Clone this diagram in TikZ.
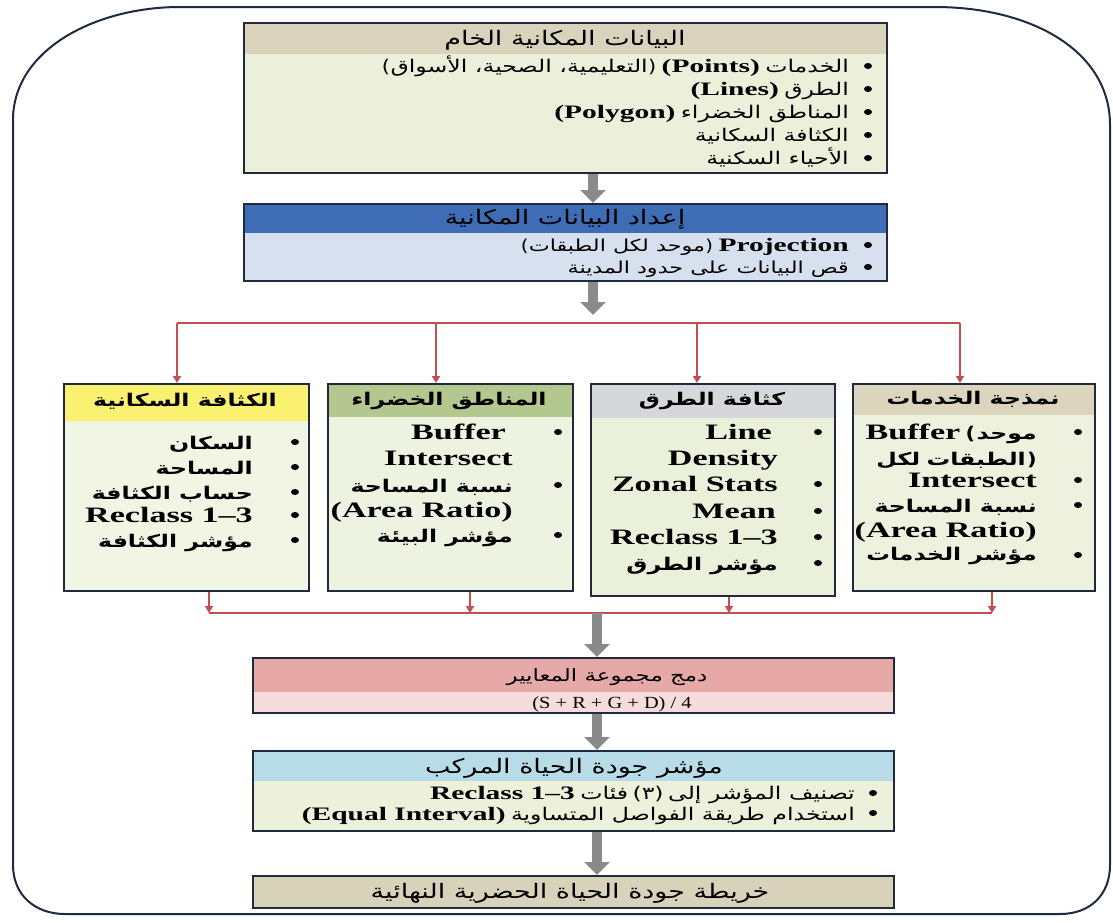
\documentclass[tikz,border=0pt]{standalone}
\usepackage{fontspec}
\setmainfont{Liberation Serif}
\newfontfamily\arabicfont[Script=Arabic,FakeStretch=1.35]{DejaVu Sans}
\newfontfamily\parfont[FakeStretch=1.2]{DejaVu Sans}
\newfontfamily\latfont[FakeStretch=1.55]{Liberation Serif}
\newfontfamily\formfont[FakeStretch=1.2]{Liberation Serif}
\TeXXeTstate=1
\usetikzlibrary{arrows.meta}
\definecolor{frame}{HTML}{1F2B3D}
\definecolor{agray}{HTML}{8A8A8A}
\definecolor{redln}{HTML}{C0504D}
\definecolor{hdrA}{HTML}{D9D3BD}
\definecolor{bodyA}{HTML}{ECF0DA}
\definecolor{hdrB}{HTML}{3E6DB5}
\definecolor{bodyB}{HTML}{D7E0EE}
\definecolor{hdrY}{HTML}{FBF171}
\definecolor{bodyY}{HTML}{F2F4E4}
\definecolor{hdrG}{HTML}{B4C78E}
\definecolor{bodyG}{HTML}{EEF2E0}
\definecolor{hdrR}{HTML}{D5D7DB}
\definecolor{bodyR}{HTML}{EAF0DA}
\definecolor{hdrS}{HTML}{DCD4BC}
\definecolor{bodyS}{HTML}{EEF1DE}
\definecolor{hdrC}{HTML}{E6A9A8}
\definecolor{bodyC}{HTML}{F6DCDC}
\definecolor{hdrQ}{HTML}{B7DCE8}
\definecolor{bodyQ}{HTML}{EDF0DA}
\definecolor{hdrF}{HTML}{D9D2BA}
\newcommand\AR[1]{{\arabicfont\beginR #1\endR}}
\newcommand\PR[1]{{\parfont #1}}
\begin{document}
\begin{tikzpicture}[x=1pt,y=-1pt,
  box/.style={draw=frame, line width=2.2pt, inner sep=0pt, anchor=north west},
  hdr/.style 2 args={path picture={\fill[#1] (path picture bounding box.north west) rectangle ([yshift=-#2pt]path picture bounding box.north east);}},
  htxt/.style={inner sep=0pt, anchor=base, font=\arabicfont\fontsize{20}{24}\selectfont},
  ctxt/.style={inner sep=0pt, anchor=base, font=\arabicfont\bfseries\fontsize{17.5}{21}\selectfont},
  ln/.style={inner sep=0pt, anchor=base east, font=\arabicfont\fontsize{17.5}{20}\selectfont},
  pln/.style={inner sep=0pt, anchor=base east, font=\arabicfont\fontsize{16.5}{19}\selectfont},
  lat/.style={inner sep=0pt, anchor=base east, font=\latfont\bfseries\fontsize{19}{23}\selectfont},
  cln/.style={inner sep=0pt, anchor=base east, font=\arabicfont\bfseries\fontsize{17.5}{21}\selectfont},
  clat/.style={inner sep=0pt, anchor=base east, font=\latfont\bfseries\fontsize{22}{26}\selectfont},
  fat/.style={draw=agray, line width=10pt, -{Triangle[width=25pt,length=13pt]}},
  redl/.style={draw=redln, line width=1.8pt},
  reda/.style={draw=redln, line width=1.8pt, -{Triangle[width=8pt,length=7pt]}},
  bul/.style={fill=black}
]
\useasboundingbox (0,0) rectangle (1113,922);
% outer frame
\draw[draw=frame, line width=2pt] (13,120) .. controls (13,50) and (95,7) .. (180,7) -- (935,7)
  .. controls (1030,7) and (1110,50) .. (1110,125) -- (1110,865)
  .. controls (1110,895) and (1090,914) .. (1060,914) -- (65,914)
  .. controls (35,914) and (13,895) .. (13,865) -- cycle;

% ---------- raw data box
\node[box, minimum width=643pt, minimum height=150pt, fill=bodyA, hdr={hdrA}{31}] (raw) at (243,22) {};
\node[htxt] (rawh) at (565,45) {\AR{البيانات المكانية الخام}};
\node[ln] (raw1a) at (849,72) {\AR{الخدمات}};
\node[lat] (raw1b) at ([xshift=-5pt]raw1a.base west) {(Points)};
\node[ln] (raw1c) at ([xshift=-5pt]raw1b.base west) {\PR{)}};
\node[ln] (raw1d) at (raw1c.base west) {\AR{التعليمية، الصحية، الأسواق}};
\node[ln] (raw1e) at (raw1d.base west) {\PR{(}};
\node[ln] (raw2a) at (849,95) {\AR{الطرق}};
\node[lat] (raw2b) at ([xshift=-5pt]raw2a.base west) {(Lines)};
\node[ln] (raw3a) at (849,118) {\AR{المناطق الخضراء}};
\node[lat] (raw3b) at ([xshift=-5pt]raw3a.base west) {(Polygon)};
\node[ln] (raw4) at (849,141) {\AR{الكثافة السكانية}};
\node[ln] (raw5) at (849,164) {\AR{الأحياء السكنية}};
\foreach \y in {66,89,112,135,158} \fill[bul] (868,\y) ellipse (4pt and 3pt);

% ---------- preparation box
\node[box, minimum width=643pt, minimum height=77pt, fill=bodyB, hdr={hdrB}{29}] (prep) at (243,203) {};
\node[htxt] (preph) at (565,224) {\AR{إعداد البيانات المكانية}};
\node[lat] (prep1a) at (849,251) {Projection};
\node[pln] (prep1b) at ([xshift=-5pt]prep1a.base west) {\PR{)}};
\node[pln] (prep1c) at (prep1b.base west) {\AR{موحد لكل الطبقات}};
\node[pln] (prep1d) at (prep1c.base west) {\PR{(}};
\node[pln] (prep2) at (849,273) {\AR{قص البيانات على حدود المدينة}};
\foreach \y in {245,267} \fill[bul] (868,\y) ellipse (4pt and 3pt);

\coordinate (ax) at (593,0);
\coordinate (split) at (593,315);
\draw[fat] (raw.south -| ax) -- (prep.north -| ax);
\draw[fat] (prep.south -| ax) -- (split);

% ---------- four criteria boxes
\node[box, minimum width=245pt, minimum height=207pt, fill=bodyY, hdr={hdrY}{37}] (pop) at (63,383) {};
\node[box, minimum width=245pt, minimum height=207pt, fill=bodyG, hdr={hdrG}{33}] (green) at (327,383) {};
\node[box, minimum width=244pt, minimum height=212pt, fill=bodyR, hdr={hdrR}{34}] (road) at (590,383) {};
\node[box, minimum width=242pt, minimum height=207pt, fill=bodyS, hdr={hdrS}{31}] (serv) at (852,383) {};

\node[ctxt] (poph) at (185,406) {\AR{الكثافة السكانية}};
\node[ctxt] (greenh) at (449,405) {\AR{المناطق الخضراء}};
\node[ctxt] (roadh) at (712,405) {\AR{كثافة الطرق}};
\node[ctxt] (servh) at (973,404) {\AR{نمذجة الخدمات}};

% population
\node[cln] (pop1) at (253,449) {\AR{السكان}};
\node[cln] (pop2) at (253,474) {\AR{المساحة}};
\node[cln] (pop3) at (253,499) {\AR{حساب الكثافة}};
\node[clat] (pop4) at (253,522) {Reclass 1–3};
\node[cln] (pop5) at (253,547) {\AR{مؤشر الكثافة}};
\foreach \y in {442,467,492,515,540} \fill[bul] (295,\y) ellipse (4pt and 3pt);

% green areas
\node[clat] (gr1) at (506,439) {Buffer};
\node[clat] (gr2) at (513,465) {Intersect};
\node[cln] (gr3) at (513,492) {\AR{نسبة المساحة}};
\node[clat] (gr4) at (513,517) {(Area Ratio)};
\node[cln] (gr5) at (513,542) {\AR{مؤشر البيئة}};
\foreach \y in {432,485,535} \fill[bul] (558,\y) ellipse (4pt and 3pt);

% roads
\node[clat] (rd1) at (772,439) {Line};
\node[clat] (rd2) at (778,465) {Density};
\node[clat] (rd3) at (778,491) {Zonal Stats};
\node[clat] (rd4) at (776,518) {Mean};
\node[clat] (rd5) at (778,544) {Reclass 1–3};
\node[cln] (rd6) at (778,570) {\AR{مؤشر الطرق}};
\foreach \y in {432,484,511,537,563} \fill[bul] (818,\y) ellipse (4pt and 3pt);

% services
\node[cln] (sv1c) at (1037,439) {\AR{موحد}};
\node[cln] (sv1b) at ([xshift=-1pt]sv1c.base west) {\PR{(}};
\node[clat] (sv1a) at ([xshift=-5pt]sv1b.base west) {Buffer};
\node[cln] (sv2c) at (1037,465) {\PR{)}};
\node[cln] (sv2b) at ([xshift=-1pt]sv2c.base west) {\AR{الطبقات}};
\node[cln] (sv2a) at ([xshift=-6pt]sv2b.base west) {\AR{لكل}};
\node[clat] (sv3) at (1037,487) {Intersect};
\node[cln] (sv4) at (1037,512) {\AR{نسبة المساحة}};
\node[clat] (sv5) at (1037,537) {(Area Ratio)};
\node[cln] (sv6) at (1037,560) {\AR{مؤشر الخدمات}};
\foreach \y in {432,480,505,555} \fill[bul] (1078,\y) ellipse (4pt and 3pt);

% distribution red lines
\coordinate (d1) at (177,323);
\coordinate (d2) at (436,323);
\coordinate (d3) at (697,323);
\coordinate (d4) at (960,323);
\draw[redl] (d1) -- (d4);
\draw[reda] (d1) -- (d1 |- pop.north);
\draw[reda] (d2) -- (d2 |- green.north);
\draw[reda] (d3) -- (d3 |- road.north);
\draw[reda] (d4) -- (d4 |- serv.north);

% collection red lines
\coordinate (c1) at (209,613);
\coordinate (c2) at (470,613);
\coordinate (c3) at (729,613);
\coordinate (c4) at (992,613);
\draw[redl] (c1) -- (c4);
\draw[reda] (c1 |- pop.south) -- (c1);
\draw[reda] (c2 |- green.south) -- (c2);
\draw[reda] (c3 |- road.south) -- (c3);
\draw[reda] (c4 |- serv.south) -- (c4);

% ---------- combination box
\node[box, minimum width=641pt, minimum height=55pt, fill=bodyC, hdr={hdrC}{34}] (comb) at (252,657) {};
\node[htxt, font=\arabicfont\fontsize{17}{20}\selectfont] (combh) at (607,681) {\AR{دمج مجموعة المعايير}};
\node[inner sep=0pt, anchor=base, font=\formfont\fontsize{17}{19}\selectfont] (combf) at (612,708) {(S + R + G + D) / 4};
\coordinate (bx) at (597,0);
\draw[fat] (c1 -| bx) -- (comb.north -| bx);

% ---------- quality index box
\node[box, minimum width=641pt, minimum height=80pt, fill=bodyQ, hdr={hdrQ}{30}] (qual) at (252,750) {};
\node[htxt] (qualh) at (574,773) {\AR{مؤشر جودة الحياة المركب}};
\node[ln] (qual1a) at (855,799) {\AR{تصنيف المؤشر إلى}};
\node[ln] (qual1b) at ([xshift=-4pt]qual1a.base west) {\AR{(٣)}};
\node[ln] (qual1c) at ([xshift=-4pt]qual1b.base west) {\AR{فئات}};
\node[lat] (qual1d) at ([xshift=-5pt]qual1c.base west) {Reclass 1–3};
\node[ln] (qual2a) at (855,820) {\AR{استخدام طريقة الفواصل المتساوية}};
\node[lat] (qual2b) at ([xshift=-5pt]qual2a.base west) {(Equal Interval)};
\foreach \y in {793,813} \fill[bul] (873,\y) ellipse (4pt and 3pt);
\draw[fat] (comb.south -| bx) -- (qual.north -| bx);

% ---------- final map box
\node[box, minimum width=641pt, minimum height=32pt, fill=hdrF] (final) at (252,875) {};
\node[htxt] (finalt) at (570,898) {\AR{خريطة جودة الحياة الحضرية النهائية}};
\draw[fat] (qual.south -| bx) -- (final.north -| bx);
\end{tikzpicture}
\end{document}
